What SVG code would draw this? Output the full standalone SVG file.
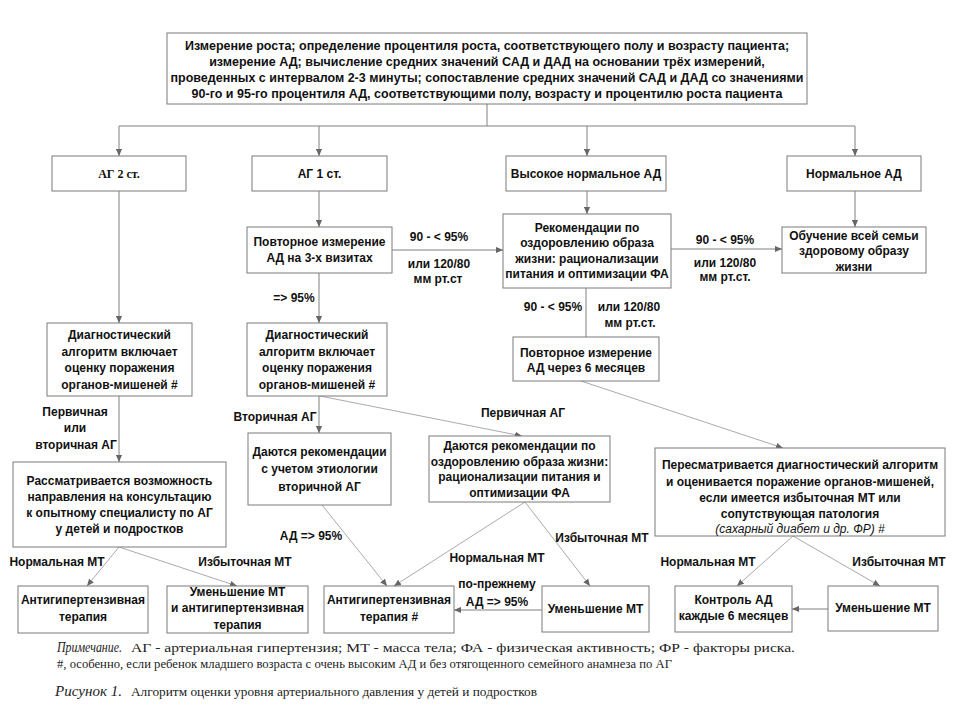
<svg xmlns="http://www.w3.org/2000/svg" width="962" height="722" viewBox="0 0 962 722">
<style>
.box{fill:#fff;stroke:#7a7a7a;stroke-width:1}
.t{font-family:"Liberation Sans",Arial,sans-serif;font-size:12px;font-weight:bold;fill:#111;text-anchor:middle}
.tt{font-size:12.5px}
.ts{font-family:"Liberation Serif","Times New Roman",serif;font-size:12px;font-weight:bold;fill:#111;text-anchor:middle}
.it{font-style:italic;font-weight:normal}
.c{fill:none;stroke:#808080;stroke-width:1}
.d{fill:none;stroke:#a0a0a0;stroke-width:0.9}
.f{font-family:"Liberation Serif","Times New Roman",serif;font-size:13px;fill:#222}
.fi{font-style:italic;font-size:14px}
</style>
<defs>
<marker id="ah" viewBox="0 0 8 8" refX="8" refY="4" markerWidth="7" markerHeight="7" markerUnits="userSpaceOnUse" orient="auto"><path d="M0,0.5 L8,4 L0,7.5 z" fill="#666"/></marker>
</defs>
<rect width="962" height="722" fill="#fff"/>

<g id="connectors">
<path class="c" d="M487,104 V126 M119,126 H855"/>
<path class="c" marker-end="url(#ah)" d="M119,126 V156"/>
<path class="c" marker-end="url(#ah)" d="M319,126 V156"/>
<path class="c" marker-end="url(#ah)" d="M587,126 V156"/>
<path class="c" marker-end="url(#ah)" d="M855,126 V156"/>
<path class="c" marker-end="url(#ah)" d="M319,191 V227"/>
<path class="c" marker-end="url(#ah)" d="M587,191 V214"/>
<path class="c" marker-end="url(#ah)" d="M855,191 V227"/>
<path class="c" marker-end="url(#ah)" d="M392,250 H503"/>
<path class="c" marker-end="url(#ah)" d="M671,249 H782"/>
<path class="c" d="M586,288 V337"/>
<path class="c" marker-end="url(#ah)" d="M319,273 V323"/>
<path class="c" marker-end="url(#ah)" d="M119,191 V323"/>
<path class="c" marker-end="url(#ah)" d="M119,396 V462"/>
<path class="c" marker-end="url(#ah)" d="M319,396 V433"/>
<path class="d" marker-end="url(#ah)" d="M320,396 L522,436"/>
<path class="d" marker-end="url(#ah)" d="M581,381 L783,448"/>
<path class="d" marker-end="url(#ah)" d="M119,547 L87,586"/>
<path class="d" marker-end="url(#ah)" d="M119,547 L237,586"/>
<path class="d" marker-end="url(#ah)" d="M322,505 L387,586"/>
<path class="d" marker-end="url(#ah)" d="M525,502 L394,586"/>
<path class="d" marker-end="url(#ah)" d="M525,502 L590,586"/>
<path class="d" marker-end="url(#ah)" d="M793,536 L737,586"/>
<path class="d" marker-end="url(#ah)" d="M793,536 L880,586"/>
<path class="c" marker-end="url(#ah)" d="M542,610 H454"/>
<path class="c" marker-end="url(#ah)" d="M828,609 H792"/>
</g>

<g id="labels">
<text class="t" x="439" y="241">90 - &lt; 95%</text>
<text class="t" x="439" y="268">или 120/80</text>
<text class="t" x="438" y="283">мм рт.ст</text>
<text class="t" x="294" y="302">=&gt; 95%</text>
<text class="t" x="725" y="244">90 - &lt; 95%</text>
<text class="t" x="725" y="267">или 120/80</text>
<text class="t" x="725" y="281">мм рт.ст.</text>
<text class="t" x="553" y="311">90 - &lt; 95%</text>
<text class="t" x="629" y="311">или 120/80</text>
<text class="t" x="630" y="327">мм рт.ст.</text>
<text class="t" x="75" y="416">Первичная</text>
<text class="t" x="75" y="432">или</text>
<text class="t" x="76" y="449">вторичная АГ</text>
<text class="t" x="275" y="421">Вторичная АГ</text>
<text class="t" x="523" y="417">Первичная АГ</text>
<text class="t" x="311" y="540">АД =&gt; 95%</text>
<text class="t" x="602" y="542">Избыточная МТ</text>
<text class="t" x="497" y="562">Нормальная МТ</text>
<text class="t" x="497" y="588">по-прежнему</text>
<text class="t" x="497" y="606">АД =&gt; 95%</text>
<text class="t" x="57" y="566">Нормальная МТ</text>
<text class="t" x="245" y="566">Избыточная МТ</text>
<text class="t" x="708" y="566">Нормальная МТ</text>
<text class="t" x="899" y="566">Избыточная МТ</text>
</g>

<g id="n-top">
<rect class="box" x="167" y="33" width="640" height="71"/>
<text class="t tt" x="487" y="50">Измерение роста; определение процентиля роста, соответствующего полу и возрасту пациента;</text>
<text class="t tt" x="487" y="66">измерение АД; вычисление средних значений САД и ДАД  на основании трёх измерений,</text>
<text class="t tt" x="487" y="82">проведенных с интервалом 2-3 минуты; сопоставление средних значений САД и ДАД со значениями</text>
<text class="t tt" x="487" y="98">90-го и 95-го процентиля АД, соответствующими полу, возрасту и процентилю роста пациента</text>
</g>

<g id="n-ag2">
<rect class="box" x="52" y="156" width="134" height="35"/>
<text class="ts" x="119" y="178">АГ 2 ст.</text>
</g>
<g id="n-ag1">
<rect class="box" x="252" y="156" width="135" height="35"/>
<text class="t" x="319.5" y="178">АГ 1 ст.</text>
</g>
<g id="n-high-normal">
<rect class="box" x="506" y="156" width="160" height="35"/>
<text class="t" x="586" y="178">Высокое нормальное АД</text>
</g>
<g id="n-normal">
<rect class="box" x="787" y="156" width="134" height="35"/>
<text class="t" x="854" y="178">Нормальное АД</text>
</g>

<g id="n-repeat3">
<rect class="box" x="247" y="227" width="145" height="46"/>
<text class="t" x="319.5" y="246">Повторное измерение</text>
<text class="t" x="319.5" y="262">АД на 3-х визитах</text>
</g>
<g id="n-reco1">
<rect class="box" x="503" y="214" width="168" height="74"/>
<text class="t" x="587" y="232">Рекомендации по</text>
<text class="t" x="587" y="247">оздоровлению образа</text>
<text class="t" x="587" y="263">жизни: рационализации</text>
<text class="t" x="587" y="278">питания и оптимизации ФА</text>
</g>
<g id="n-family">
<rect class="box" x="782" y="227" width="144" height="46"/>
<text class="t" x="854" y="240">Обучение всей семьи</text>
<text class="t" x="854" y="255">здоровому образу</text>
<text class="t" x="854" y="271">жизни</text>
</g>
<g id="n-repeat6">
<rect class="box" x="513" y="337" width="146" height="44"/>
<text class="t" x="586" y="357">Повторное измерение</text>
<text class="t" x="586" y="372">АД через 6 месяцев</text>
</g>

<g id="n-diag-left">
<rect class="box" x="47" y="323" width="145" height="73"/>
<text class="t" x="119.5" y="339">Диагностический</text>
<text class="t" x="119.5" y="356">алгоритм включает</text>
<text class="t" x="119.5" y="372">оценку поражения</text>
<text class="t" x="119.5" y="389">органов-мишеней #</text>
</g>
<g id="n-diag-right">
<rect class="box" x="247" y="323" width="140" height="73"/>
<text class="t" x="317" y="339">Диагностический</text>
<text class="t" x="317" y="356">алгоритм включает</text>
<text class="t" x="317" y="372">оценку поражения</text>
<text class="t" x="317" y="389">органов-мишеней #</text>
</g>

<g id="n-consult">
<rect class="box" x="13" y="462" width="213" height="85"/>
<text class="t" x="119.5" y="485">Рассматривается возможность</text>
<text class="t" x="119.5" y="501">направления на консультацию</text>
<text class="t" x="119.5" y="517">к опытному специалисту по АГ</text>
<text class="t" x="119.5" y="533">у детей и подростков</text>
</g>
<g id="n-secondary">
<rect class="box" x="248" y="433" width="143" height="72"/>
<text class="t" x="319.5" y="456">Даются рекомендации</text>
<text class="t" x="319.5" y="473">с учетом этиологии</text>
<text class="t" x="319.5" y="491">вторичной АГ</text>
</g>
<g id="n-lifestyle">
<rect class="box" x="429" y="436" width="181" height="66"/>
<text class="t" x="519.5" y="450">Даются рекомендации по</text>
<text class="t" x="519.5" y="466">оздоровлению образа жизни:</text>
<text class="t" x="519.5" y="481">рационализации питания и</text>
<text class="t" x="519.5" y="497">оптимизации ФА</text>
</g>
<g id="n-review">
<rect class="box" x="655" y="448" width="290" height="88"/>
<text class="t" x="800" y="469">Пересматривается диагностический алгоритм</text>
<text class="t" x="800" y="486">и оценивается поражение органов-мишеней,</text>
<text class="t" x="800" y="502">если имеется избыточная МТ или</text>
<text class="t" x="800" y="518">сопутствующая патология</text>
<text class="t it" x="800" y="533">(сахарный диабет и др. ФР) #</text>
</g>

<g id="n-therapy-left">
<rect class="box" x="18" y="586" width="130" height="47"/>
<text class="t" x="83" y="604">Антигипертензивная</text>
<text class="t" x="83" y="621">терапия</text>
</g>
<g id="n-reduce-therapy">
<rect class="box" x="167" y="586" width="141" height="47"/>
<text class="t" x="237.5" y="596">Уменьшение МТ</text>
<text class="t" x="237.5" y="612">и антигипертензивная</text>
<text class="t" x="237.5" y="629">терапия</text>
</g>
<g id="n-therapy-mid">
<rect class="box" x="324" y="586" width="130" height="47"/>
<text class="t" x="389" y="604">Антигипертензивная</text>
<text class="t" x="389" y="621">терапия  #</text>
</g>
<g id="n-reduce-mid">
<rect class="box" x="542" y="586" width="107" height="46"/>
<text class="t" x="595.5" y="613">Уменьшение МТ</text>
</g>
<g id="n-control">
<rect class="box" x="675" y="586" width="117" height="46"/>
<text class="t" x="733.5" y="604">Контроль АД</text>
<text class="t" x="733.5" y="620">каждые 6 месяцев</text>
</g>
<g id="n-reduce-right">
<rect class="box" x="828" y="586" width="110" height="45"/>
<text class="t" x="883" y="612">Уменьшение МТ</text>
</g>

<g id="footer">
<text class="f fi" x="57" y="652" textLength="65" lengthAdjust="spacingAndGlyphs">Примечание.</text>
<text class="f" x="131" y="652" textLength="664" lengthAdjust="spacingAndGlyphs">АГ - артериальная гипертензия; МТ - масса тела; ФА - физическая активность; ФР - факторы риска.</text>
<text class="f" x="57" y="668" textLength="615" lengthAdjust="spacingAndGlyphs">#, особенно, если ребенок младшего возраста с очень высоким АД и без отягощенного семейного анамнеза по АГ</text>
<text class="f fi" x="55" y="696" textLength="67" lengthAdjust="spacingAndGlyphs">Рисунок 1.</text>
<text class="f" x="131" y="696" textLength="406" lengthAdjust="spacingAndGlyphs">Алгоритм оценки уровня артериального давления у детей и подростков</text>
</g>
</svg>
